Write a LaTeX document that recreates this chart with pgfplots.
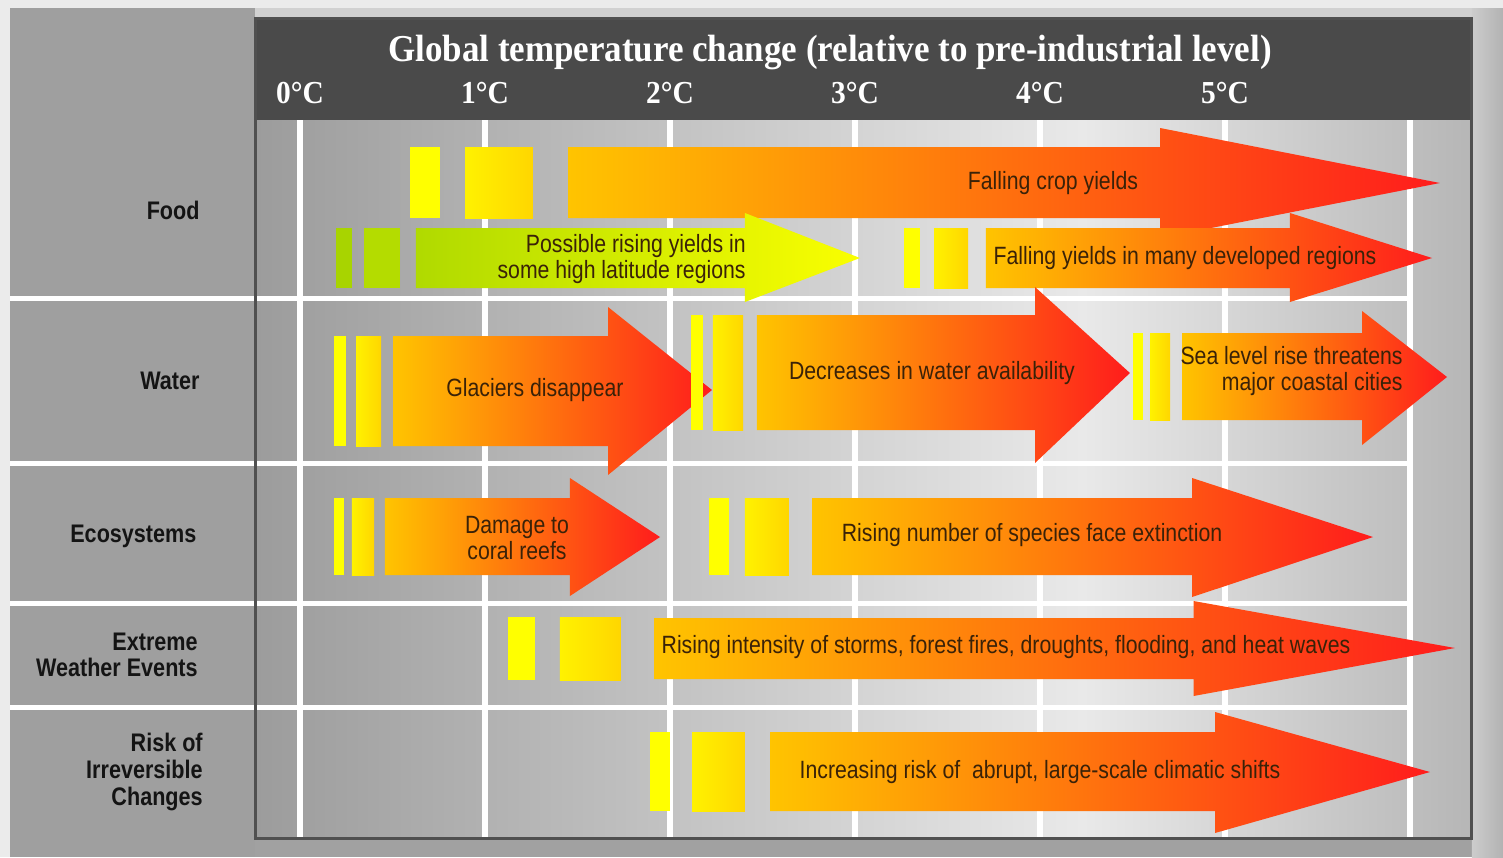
\documentclass[border=0pt]{standalone}
\usepackage{pgfplots}
\pgfplotsset{compat=1.18}
\usepackage{fontspec}
\setmainfont{Liberation Sans}
\newfontfamily\labfont[FakeStretch=0.85]{Liberation Sans}
\newfontfamily\titfont[FakeStretch=0.92]{Liberation Serif}

\definecolor{outerc}{HTML}{EBEBEB}
\definecolor{leftcol}{HTML}{9F9F9F}
\definecolor{headerc}{HTML}{4A4A4A}
\definecolor{framec}{HTML}{505050}
\definecolor{bgA}{HTML}{9C9C9C}
\definecolor{bgB}{HTML}{E9E9E9}
\definecolor{bgC}{HTML}{B6B6B6}
\definecolor{yel}{HTML}{FFFF00}
\definecolor{yelA}{HTML}{FFF200}
\definecolor{yelB}{HTML}{FFD600}
\definecolor{arrL}{HTML}{FFC400}
\definecolor{arrR}{HTML}{FF1C1C}
\definecolor{grnA}{HTML}{A8D400}
\definecolor{grnB}{HTML}{B4DC00}
\definecolor{grnL}{HTML}{B0DA00}
\definecolor{grnR}{HTML}{FAFF00}
\definecolor{txt}{HTML}{3A2208}

\pgfdeclarehorizontalshading{bgshade}{100bp}{color(0bp)=(bgA); color(25bp)=(bgA); color(59bp)=(bgB); color(75bp)=(bgC); color(100bp)=(bgC)}

\pgfplotsset{
  bara/.style={draw=none, fill=yel},
  barb/.style={draw=none, left color=yelA, right color=yelB},
  garA/.style={draw=none, fill=grnA},
  garB/.style={draw=none, fill=grnB},
  arr/.style={draw=none, left color=arrL, right color=arrR},
  garr/.style={draw=none, left color=grnL, right color=grnR},
  hline/.style={draw=white, line width=2.5pt},
  vline/.style={draw=white, line width=3pt},
}

\begin{document}
\begin{tikzpicture}
\begin{axis}[
  scale only axis, width=751.5pt, height=428.5pt,
  xmin=-1.6216, xmax=6.5027, ymin=0, ymax=857, y dir=reverse,
  hide axis, clip=false, no markers,
  every node/.style={inner sep=0pt},
]
% ---- backgrounds
\addplot[draw=none, fill=outerc] coordinates {(-1.6216,0)(6.5027,0)(6.5027,857)(-1.6216,857)} -- cycle;
\addplot[draw=none, fill=leftcol] coordinates {(-1.568,8)(-0.243,8)(-0.243,857)(-1.568,857)} -- cycle;
\addplot[draw=none, fill=black!18] coordinates {(-0.243,8)(6.5027,8)(6.5027,18)(-0.243,18)} -- cycle;
\addplot[draw=none, fill=black!37] coordinates {(-0.243,838)(6.5027,838)(6.5027,857)(-0.243,857)} -- cycle;
\addplot[draw=none, left color=black!20, right color=black!30] coordinates {(6.335,8)(6.5027,8)(6.5027,857)(6.335,857)} -- cycle;
\addplot[draw=none, shade, shading=bgshade] coordinates {(-0.243,120)(6.335,120)(6.335,838)(-0.243,838)} -- cycle;
\addplot[draw=none, fill=headerc] coordinates {(-0.243,18)(6.335,18)(6.335,120)(-0.243,120)} -- cycle;
% ---- grid
\addplot[hline] coordinates {(-1.568,298)(6,298)};
\addplot[hline] coordinates {(-1.568,463)(6,463)};
\addplot[hline] coordinates {(-1.568,603)(6,603)};
\addplot[hline] coordinates {(-1.568,707)(6,707)};
\addplot[vline] coordinates {(0,120)(0,838)};
\addplot[vline] coordinates {(1,120)(1,838)};
\addplot[vline] coordinates {(2,120)(2,838)};
\addplot[vline] coordinates {(3,120)(3,838)};
\addplot[vline] coordinates {(4,120)(4,838)};
\addplot[vline] coordinates {(5,120)(5,838)};
\addplot[vline] coordinates {(6,120)(6,838)};
\addplot[draw=framec, line width=1.5pt] coordinates {(-0.243,18)(6.335,18)(6.335,838)(-0.243,838)} -- cycle;
% ---- Food
\addplot[bara] coordinates {(0.595,147)(0.757,147)(0.757,218)(0.595,218)} -- cycle;
\addplot[barb] coordinates {(0.892,147)(1.259,147)(1.259,218)(0.892,218)} -- cycle;
\addplot[arr] coordinates {(1.449,147)(4.649,147)(4.649,128)(6.162,183)(4.649,238)(4.649,218)(1.449,218)} -- cycle;
\addplot[garA] coordinates {(0.195,228)(0.281,228)(0.281,288)(0.195,288)} -- cycle;
\addplot[garB] coordinates {(0.346,228)(0.541,228)(0.541,288)(0.346,288)} -- cycle;
\addplot[garr] coordinates {(0.627,228)(2.405,228)(2.405,213)(3.027,258)(2.405,302)(2.405,288)(0.627,288)} -- cycle;
\addplot[bara] coordinates {(3.265,228)(3.351,228)(3.351,288)(3.265,288)} -- cycle;
\addplot[barb] coordinates {(3.427,228)(3.611,228)(3.611,288)(3.427,288)} -- cycle;
\addplot[arr] coordinates {(3.708,228)(5.351,228)(5.351,213)(6.119,258)(5.351,302)(5.351,288)(3.708,288)} -- cycle;
% ---- Water
\addplot[bara] coordinates {(0.184,336)(0.249,336)(0.249,446)(0.184,446)} -- cycle;
\addplot[barb] coordinates {(0.303,336)(0.438,336)(0.438,446)(0.303,446)} -- cycle;
\addplot[arr] coordinates {(0.503,336)(1.665,336)(1.665,307)(2.227,390)(1.665,475)(1.665,446)(0.503,446)} -- cycle;
\addplot[bara] coordinates {(2.114,315)(2.178,315)(2.178,430)(2.114,430)} -- cycle;
\addplot[barb] coordinates {(2.232,315)(2.395,315)(2.395,430)(2.232,430)} -- cycle;
\addplot[arr] coordinates {(2.470,315)(3.973,315)(3.973,287)(4.486,373)(3.973,463)(3.973,430)(2.470,430)} -- cycle;
\addplot[bara] coordinates {(4.503,333)(4.557,333)(4.557,420)(4.503,420)} -- cycle;
\addplot[barb] coordinates {(4.595,333)(4.703,333)(4.703,420)(4.595,420)} -- cycle;
\addplot[arr] coordinates {(4.768,333)(5.741,333)(5.741,311)(6.200,377)(5.741,445)(5.741,420)(4.768,420)} -- cycle;
% ---- Ecosystems
\addplot[bara] coordinates {(0.184,498)(0.238,498)(0.238,575)(0.184,575)} -- cycle;
\addplot[barb] coordinates {(0.281,498)(0.400,498)(0.400,575)(0.281,575)} -- cycle;
\addplot[arr] coordinates {(0.459,498)(1.459,498)(1.459,478)(1.946,537)(1.459,596)(1.459,575)(0.459,575)} -- cycle;
\addplot[bara] coordinates {(2.211,498)(2.319,498)(2.319,575)(2.211,575)} -- cycle;
\addplot[barb] coordinates {(2.405,498)(2.643,498)(2.643,575)(2.405,575)} -- cycle;
\addplot[arr] coordinates {(2.768,498)(4.822,498)(4.822,478)(5.800,537)(4.822,597)(4.822,575)(2.768,575)} -- cycle;
% ---- Extreme weather
\addplot[bara] coordinates {(1.124,617)(1.270,617)(1.270,680)(1.124,680)} -- cycle;
\addplot[barb] coordinates {(1.405,617)(1.735,617)(1.735,680)(1.405,680)} -- cycle;
\addplot[arr] coordinates {(1.914,618)(4.830,618)(4.830,601)(6.243,648)(4.830,696)(4.830,679)(1.914,679)} -- cycle;
% ---- Irreversible changes
\addplot[bara] coordinates {(1.892,732)(2.000,732)(2.000,811)(1.892,811)} -- cycle;
\addplot[barb] coordinates {(2.119,732)(2.405,732)(2.405,811)(2.119,811)} -- cycle;
\addplot[arr] coordinates {(2.541,732)(4.946,732)(4.946,712)(6.108,772)(4.946,833)(4.946,811)(2.541,811)} -- cycle;

% ---- header text
\node[text=white, font=\titfont\bfseries\fontsize{19}{20}\selectfont] at (axis cs:2.865,53) {Global temperature change (relative to pre-industrial level)};
\foreach \t/\lab in {0/0°C,1/1°C,2/2°C,3/3°C,4/4°C,5/5°C}{
  \edef\tmp{\noexpand\node[text=white, font=\noexpand\titfont\noexpand\bfseries\noexpand\fontsize{16}{17}\noexpand\selectfont] at (axis cs:\t,93) {\lab};}\tmp
}
% ---- row labels
\begin{scope}[every node/.style={anchor=east, align=right, inner sep=0pt, text=black!92, font=\labfont\bfseries\fontsize{12.7}{13.3}\selectfont}]
\node at (axis cs:-0.541,210) {Food};
\node at (axis cs:-0.541,381) {Water};
\node at (axis cs:-0.558,536) {Ecosystems};
\node at (axis cs:-0.551,655) {Extreme\\Weather Events};
\node at (axis cs:-0.524,772) {Risk of\\Irreversible\\Changes};
\end{scope}
% ---- arrow texts
\begin{scope}[every node/.style={inner sep=0pt, text=txt, font=\labfont\fontsize{12.5}{13}\selectfont}]
\node at (axis cs:4.070,183) {Falling crop yields};
\node[anchor=east, align=right] at (axis cs:2.411,259) {Possible rising yields in\\some high latitude regions};
\node at (axis cs:4.784,258) {Falling yields in many developed regions};
\node at (axis cs:1.270,390) {Glaciers disappear};
\node at (axis cs:3.416,373) {Decreases in water availability};
\node[anchor=east, align=right] at (axis cs:5.962,371) {Sea level rise threatens\\major coastal cities};
\node[align=center] at (axis cs:1.173,538) {Damage to\\coral reefs};
\node at (axis cs:3.957,535) {Rising number of species face extinction};
\node at (axis cs:3.816,647) {Rising intensity of storms, forest fires, droughts, flooding, and heat waves};
\node at (axis cs:4.000,772) {Increasing risk of \ abrupt, large-scale climatic shifts};
\end{scope}
\end{axis}
\end{tikzpicture}
\end{document}
